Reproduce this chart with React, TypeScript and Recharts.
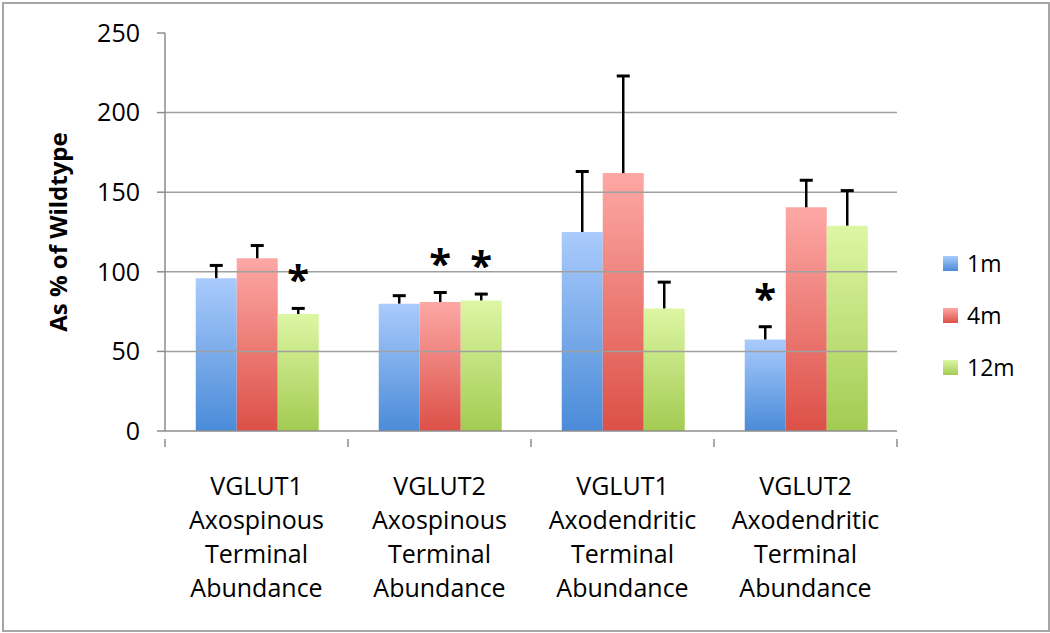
import { BarChart, Bar, XAxis, YAxis, ReferenceLine, LabelList } from "recharts";

const categories = [
  "VGLUT1 Axospinous Terminal Abundance",
  "VGLUT2 Axospinous Terminal Abundance",
  "VGLUT1 Axodendritic Terminal Abundance",
  "VGLUT2 Axodendritic Terminal Abundance",
];
const yTicks = [0, 50, 100, 150, 200, 250];
const gridValues = [50, 100, 150, 200];

const m1 = [96, 80, 125, 57.5];
const m1Err = [8, 5, 38, 8];
const m1Sig = [false, false, false, true];

const m4 = [108.5, 81, 162, 140.5];
const m4Err = [8, 6, 61, 17];
const m4Sig = [false, true, false, false];

const m12 = [73.5, 82, 77, 129];
const m12Err = [3.5, 4, 16.5, 22];
const m12Sig = [true, true, false, false];

const W = 1050;
const H = 633;
const margin = { top: 33, right: 153, bottom: 0, left: 0 };
const yAxisWidth = 165;
const halfBand = (W - margin.left - margin.right - yAxisWidth) / categories.length / 2;
const font = "'Open Sans', sans-serif";
const axisGray = "#8c8c8c";

const data = categories.map((name, i) => ({ name, m1: m1[i], m4: m4[i], m12: m12[i] }));

const series = [
  { key: "m1", label: "1m", top: "#aacbfc", bottom: "#4a8bd8", err: m1Err, sig: m1Sig },
  { key: "m4", label: "4m", top: "#fda8a5", bottom: "#dc5047", err: m4Err, sig: m4Sig },
  { key: "m12", label: "12m", top: "#ddf6a4", bottom: "#a3cb52", err: m12Err, sig: m12Sig },
];

const makeMarks = (err: number[], sig: boolean[]) => (props: any) => {
  const { x, y, width, height, value, index } = props;
  const pxPerUnit = Number(height) / Number(value);
  const cx = Number(x) + Number(width) / 2;
  const top = Number(y) - err[index] * pxPerUnit;
  return (
    <g>
      <line x1={cx} x2={cx} y1={y} y2={top} stroke="#000" strokeWidth={2.5} />
      <line x1={cx - 6.5} x2={cx + 6.5} y1={top} y2={top} stroke="#000" strokeWidth={3} />
      {sig[index] && (
        <text x={cx} y={top - 14} textAnchor="middle" fontSize={40} fontWeight="bold" fontFamily={font} fill="#000">
          *
        </text>
      )}
    </g>
  );
};

const CategoryTick = (props: any) => {
  const { x, y, payload, index } = props;
  const lines = String(payload.value).split(" ");
  return (
    <g>
      <line x1={x - halfBand} x2={x - halfBand} y1={y} y2={y + 8} stroke={axisGray} strokeWidth={1.5} />
      {index === categories.length - 1 && (
        <line x1={x + halfBand} x2={x + halfBand} y1={y} y2={y + 8} stroke={axisGray} strokeWidth={1.5} />
      )}
      {lines.map((l, i) => (
        <text key={i} x={x} y={y + 56 + i * 34} textAnchor="middle" fontSize={25} fontFamily={font} fill="#000">
          {l}
        </text>
      ))}
    </g>
  );
};

const LegendBox = () => (
  <div style={{ position: "absolute", left: 943, top: 237, fontFamily: font, fontSize: 23, color: "#000" }}>
    {series.map((s) => (
      <div key={s.key} style={{ display: "flex", alignItems: "center", height: 52 }}>
        <div
          style={{
            width: 15,
            height: 15,
            marginRight: 9,
            background: `linear-gradient(${s.top}, ${s.bottom})`,
          }}
        />
        <span>{s.label}</span>
      </div>
    ))}
  </div>
);

export default function App() {
  return (
    <div style={{ position: "absolute", left: 0, top: 0, width: W, height: H, background: "#fff" }}>
      <div
        style={{
          position: "absolute",
          left: 2,
          top: 2,
          width: W - 6,
          height: H - 7,
          border: "2px solid #a6a6a6",
        }}
      />
      <BarChart width={W} height={H} data={data} margin={margin} barCategoryGap="16.8%" barGap={0}>
        <defs>
          {series.map((s) => (
            <linearGradient key={s.key} id={`grad-${s.key}`} x1="0" y1="0" x2="0" y2="1">
              <stop offset="0%" stopColor={s.top} />
              <stop offset="100%" stopColor={s.bottom} />
            </linearGradient>
          ))}
        </defs>
        {gridValues.map((v) => (
          <ReferenceLine key={v} y={v} stroke="#a0a0a0" strokeWidth={1.5} />
        ))}
        <XAxis
          dataKey="name"
          interval={0}
          height={202}
          axisLine={{ stroke: axisGray, strokeWidth: 1.5 }}
          tickLine={false}
          tick={<CategoryTick />}
        />
        <YAxis
          width={yAxisWidth}
          domain={[0, 250]}
          ticks={yTicks}
          axisLine={{ stroke: axisGray, strokeWidth: 1.5 }}
          tickLine={{ stroke: axisGray, strokeWidth: 1.5 }}
          tickSize={8}
          tickMargin={17}
          tick={{ fontSize: 25, fill: "#000", fontFamily: font }}
          label={{
            content: (p: any) => {
              const cy = p.viewBox.y + p.viewBox.height / 2;
              return (
                <text
                  x={57}
                  y={cy}
                  transform={`rotate(-90 57 ${cy})`}
                  textAnchor="middle"
                  dominantBaseline="central"
                  fontSize={24}
                  fontWeight="bold"
                  fontFamily={font}
                  fill="#000"
                >
                  As % of Wildtype
                </text>
              );
            },
          }}
        />
        {series.map((s) => (
          <Bar key={s.key} dataKey={s.key} name={s.label} fill={`url(#grad-${s.key})`} isAnimationActive={false}>
            <LabelList dataKey={s.key} content={makeMarks(s.err, s.sig)} />
          </Bar>
        ))}
      </BarChart>
      <LegendBox />
    </div>
  );
}
